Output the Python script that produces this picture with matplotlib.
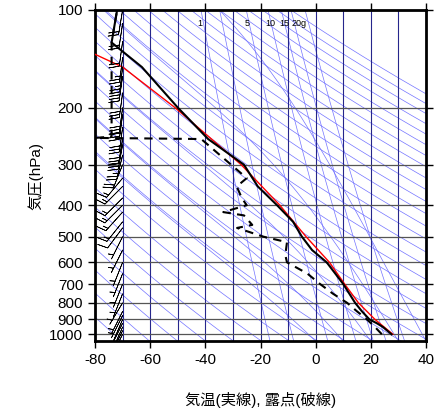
import numpy as np
import matplotlib
matplotlib.use("Agg")
import matplotlib.pyplot as plt
from matplotlib.ticker import NullLocator

plt.rcParams['font.family'] = ['Liberation Sans', 'Noto Sans CJK JP', 'DejaVu Sans']

# temperature profile
t_p = [1000, 950, 925, 900, 850, 800, 700, 600, 550, 500, 450, 400, 350, 300, 250, 200, 150, 126, 100]
t_t = [27.5, 24.4, 22.2, 19.5, 16.8, 14.3, 10.0, 4.0, -1.3, -5.0, -8.2, -14.0, -21.0, -26.0, -39.0, -50.0, -63.0, -74.0, -72.0]
# dewpoint profile
d_p = [1000, 950, 900, 850, 800, 750, 700, 650, 600, 570, 520, 500, 470, 460, 430, 420, 400, 380, 360, 350, 330, 250, 248, 246, 126, 100]
d_t = [24.0, 21.5, 18.6, 15.0, 11.4, 6.3, 1.6, -3.0, -10.4, -11.0, -10.4, -19.0, -28.5, -23.0, -26.0, -33.5, -25.0, -26.8, -28.0, -28.6, -25.0, -41.5, -80.0, -74.0, -74.0, -72.0]
# parcel (red)
r_p = [1000, 900, 800, 700, 600, 500, 400, 300, 200, 150, 137]
r_t = [28.0, 21.5, 15.5, 10.5, 5.0, -3.5, -13.0, -27.0, -51.0, -70.0, -80.0]
# winds (barbs at T=-70)
w_p = [1000, 975, 950, 925, 900, 875, 850, 800, 750, 700, 650, 600, 550, 500, 470, 450, 420, 400, 380, 350, 330, 300, 280, 260, 250, 230, 210, 200, 180, 160, 150, 140, 125, 110, 100]
w_u = [3, 4, 4, 4, 3, 3, 3, 3, 2, 2, 2, 2, 3, 3, 6, 8, 9, 10, 10, 10, 10, 8, 6, 5, 5, 4, 4, 4, 4, 4, 3, 3, 3, 3, 3]
w_v = [6, 8, 9, 8, 7, 6, 6, 5, 5, 5, 5, 5, 6, 6, 8, 10, 10, 10, 10, 10, 12, 20, 25, 28, 30, 30, 30, 30, 30, 28, 26, 24, 22, 20, 18]
mr_vals = [1, 2, 5, 10, 15, 20, 30]
mr_labels = ["1", "5", "10", "15", "20g"]
mr_label_x = [-42, -25, -16.5, -11.5, -6]

def es(T):
    return 6.112 * np.exp(17.67 * T / (T + 243.5))

fig = plt.figure(figsize=(4.36, 4.11), dpi=100)
ax = fig.add_axes([0.218, 0.170, 0.759, 0.8057])
ax.set_yscale('log')
ax.set_xlim(-80, 40)
ax.set_ylim(1050, 100)

P = np.logspace(np.log10(100), np.log10(1050), 200)
blue = (0.45, 0.45, 1.0)
for th in range(200, 520, 10):
    T = th * (P / 1000.0) ** 0.2857 - 273.15
    ax.plot(T, P, color=blue, lw=0.5, zorder=1)
def moist(T0):
    ps = np.linspace(1050, 100, 400)
    Ts = [T0]
    for i in range(1, len(ps)):
        T = Ts[-1]; p = ps[i-1]
        Tk = T + 273.15
        rs = 0.622 * es(T) / (p - es(T))
        Lv = 2.5e6
        num = (287 * Tk + Lv * rs) / p
        den = 1004 + Lv * Lv * rs * 0.622 / (287 * Tk * Tk)
        Ts.append(T + num / den * (ps[i] - p))
    return np.array(Ts), ps
for T0 in range(0, 45, 10):
    Ts, ps = moist(T0)
    ax.plot(Ts, ps, color=blue, lw=0.5, zorder=1)
for w in mr_vals:
    e = w / 1000 * P / (0.622 + w / 1000)
    le = np.log(e / 6.112)
    T = 243.5 * le / (17.67 - le)
    ax.plot(T, P, color=blue, lw=0.5, zorder=1)
for lab, x in zip(mr_labels, mr_label_x):
    ax.text(x, 110, lab, fontsize=6.5, ha='center', va='center', zorder=3)

for t in range(-80, 41, 10):
    ax.axvline(t, color=(0.15, 0.15, 0.55), lw=0.8, zorder=1.5)
for p in range(100, 1001, 100):
    ax.axhline(p, color='#555555', lw=0.9, zorder=1.5)

ax.plot(r_t, r_p, color='red', lw=1.0, zorder=4)
ax.plot(t_t, t_p, color='black', lw=1.5, zorder=5)
ax.plot(d_t, d_p, color='black', lw=1.5, ls=(0, (4, 3)), zorder=5)
ax.barbs([-70] * len(w_p), w_p, w_u, w_v, length=6, linewidth=0.5, color='black', zorder=6)

ax.yaxis.set_minor_locator(NullLocator())
ax.set_yticks(range(100, 1001, 100))
ax.set_yticklabels([str(p) for p in range(100, 1001, 100)], fontsize=11)
ax.set_xticks(range(-80, 41, 20))
ax.set_xticklabels([str(t) for t in range(-80, 41, 20)], fontsize=11)
ax.tick_params(which='both', direction='out', length=5, top=True, right=True, width=1)
for s in ax.spines.values():
    s.set_linewidth(2)
ax.set_ylabel('気圧(hPa)', fontsize=11, labelpad=4)
ax.set_xlabel('気温(実線), 露点(破線)', fontsize=11, labelpad=18)
fig.savefig('out.png', dpi=100)
